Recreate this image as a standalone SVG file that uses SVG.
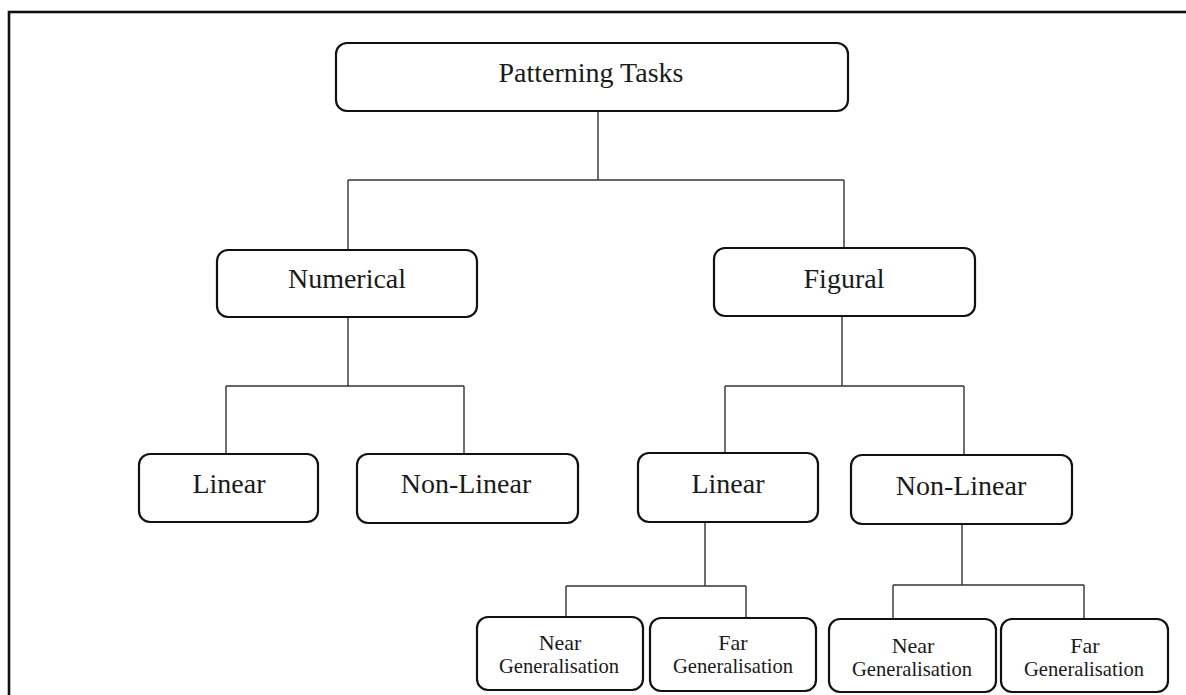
<svg xmlns="http://www.w3.org/2000/svg" width="1186" height="695" viewBox="0 0 1186 695">
<style>
.box{fill:#fff;stroke:#111;stroke-width:2.2}
.lbl{font-family:"Liberation Serif","Times New Roman",serif;font-size:28px;fill:#1a1a1a;text-anchor:middle}
.sm{font-family:"Liberation Serif","Times New Roman",serif;font-size:22px;fill:#1a1a1a;text-anchor:middle}
.conn{fill:none;stroke:#333;stroke-width:1.4}
</style>
<rect x="0" y="0" width="1186" height="695" fill="#fff"/>
<rect id="frame" x="9" y="12" width="1200" height="700" fill="none" stroke="#111" stroke-width="2.6"/>
<g id="connectors">
<path class="conn" d="M598,111 V180 M348,180 H844 M348,180 V250 M844,180 V248"/>
<path class="conn" d="M348,317 V386 M226,386 H464 M226,386 V454 M464,386 V454"/>
<path class="conn" d="M842,317 V386 M725,386 H964 M725,386 V453 M964,386 V455"/>
<path class="conn" d="M705,522 V586 M566,586 H746 M566,586 V617 M746,586 V618"/>
<path class="conn" d="M962,524 V585 M893,585 H1084 M893,585 V619 M1084,585 V619"/>
</g>
<g id="n-patterning">
<rect class="box" x="336" y="43" width="512" height="68" rx="11"/>
<text class="lbl" x="591" y="82">Patterning Tasks</text>
</g>
<g id="n-numerical">
<rect class="box" x="217" y="250" width="260" height="67" rx="11"/>
<text class="lbl" x="347" y="288">Numerical</text>
</g>
<g id="n-figural">
<rect class="box" x="714" y="248" width="261" height="68" rx="11"/>
<text class="lbl" x="844" y="288">Figural</text>
</g>
<g id="n-num-linear">
<rect class="box" x="139" y="454" width="179" height="68" rx="11"/>
<text class="lbl" x="229" y="493">Linear</text>
</g>
<g id="n-num-nonlinear">
<rect class="box" x="357" y="454" width="221" height="69" rx="11"/>
<text class="lbl" x="466" y="493">Non-Linear</text>
</g>
<g id="n-fig-linear">
<rect class="box" x="638" y="453" width="180" height="69" rx="11"/>
<text class="lbl" x="728" y="493">Linear</text>
</g>
<g id="n-fig-nonlinear">
<rect class="box" x="851" y="455" width="221" height="69" rx="11"/>
<text class="lbl" x="961" y="495">Non-Linear</text>
</g>
<g id="n-lin-near">
<rect class="box" x="477" y="617" width="166" height="73" rx="11"/>
<text class="sm" x="560" y="650">Near</text>
<text class="sm" x="559" y="673" textLength="120" lengthAdjust="spacingAndGlyphs">Generalisation</text>
</g>
<g id="n-lin-far">
<rect class="box" x="650" y="618" width="166" height="73" rx="11"/>
<text class="sm" x="733" y="650">Far</text>
<text class="sm" x="733" y="673" textLength="120" lengthAdjust="spacingAndGlyphs">Generalisation</text>
</g>
<g id="n-nl-near">
<rect class="box" x="829" y="619" width="167" height="73" rx="11"/>
<text class="sm" x="913" y="653">Near</text>
<text class="sm" x="912" y="676" textLength="120" lengthAdjust="spacingAndGlyphs">Generalisation</text>
</g>
<g id="n-nl-far">
<rect class="box" x="1001" y="619" width="167" height="73" rx="11"/>
<text class="sm" x="1085" y="653">Far</text>
<text class="sm" x="1084" y="676" textLength="120" lengthAdjust="spacingAndGlyphs">Generalisation</text>
</g>
</svg>
